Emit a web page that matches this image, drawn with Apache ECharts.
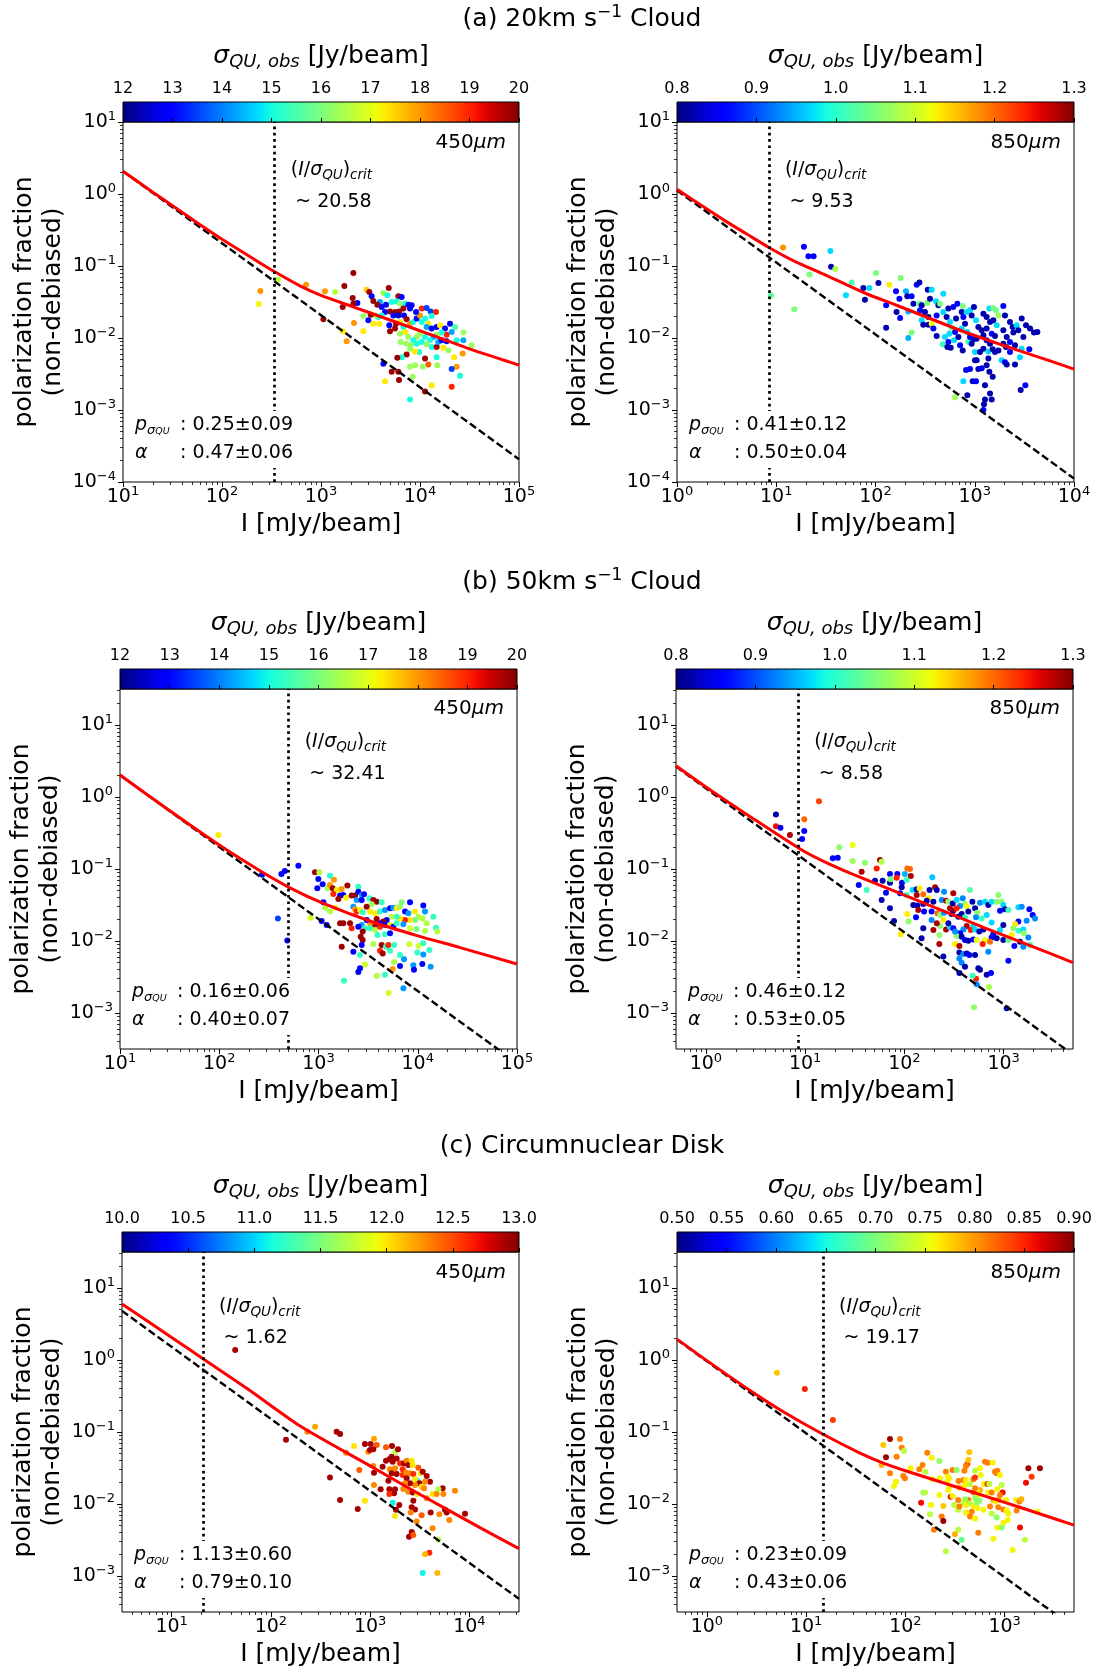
<!DOCTYPE html>
<html><head><meta charset="utf-8">
<script src="https://cdn.jsdelivr.net/npm/echarts@6.0.0/dist/echarts.min.js"></script>
<style>html,body{margin:0;padding:0;background:#fff}#c{width:1096px;height:1674px}</style>
</head><body><div id="c"></div>
<script>
// ================= DATA =================
// points: [I (mJy/beam), polarization fraction, sigma_QU,obs]
const pts20_450 = [[244,0.045,18],[235,0.0296,17.2],[367,0.0647,16.6],
[2123,0.080,19.8],[706,0.0551,18],[1096,0.0445,18],[1386,0.0435,16.6],[1722,0.0527,19.8],[2891,0.0469,17.5],[3076,0.0435,19.8],[3250,0.0379,13],[3378,0.0327,19.8],[4831,0.0494,19.8],[2089,0.036,19.8],[2329,0.0306,13],[2123,0.030,19.8],[1656,0.027,19.8],[4266,0.0422,16.3],[4677,0.0392,15],[6043,0.0379,19.8],[6531,0.0371,13],[3945,0.0316,14.3],[3707,0.029,19.8],[4101,0.027,13],[4536,0.029,13],[5177,0.0316,15],[5808,0.0323,15],[6281,0.030,16.2],[7063,0.030,15],[7621,0.029,13],[8240,0.0284,13],[7925,0.0256,13],[6792,0.0256,19.8],[6182,0.0234,19.8],[5594,0.023,19.8],[4977,0.0234,19.8],[4432,0.023,13],[4101,0.0206,15],[3793,0.0196,15],[3514,0.0206,16.3],[3176,0.0211,19.8],[3006,0.0176,13],[2679,0.0202,16.3],[3378,0.0158,17.3],[3882,0.0158,17.3],[4898,0.015,13],[5383,0.0206,13],[6043,0.0206,12.5],[6900,0.0206,13],[7331,0.0182,19.8],[6281,0.0167,17.3],[5724,0.0158,19.8],[6792,0.0142,15],[7925,0.0158,18],[8570,0.0167,15],[9252,0.0186,13],[10000,0.0206,18],[9120,0.023,13],[10400,0.0256,19],[11670,0.0261,13.5],[12820,0.0234,13.5],[14510,0.023,19],[13120,0.0202,15],[11240,0.0186,15],[10400,0.0167,15],[12130,0.0158,17.3],[11670,0.0142,14.3],[13120,0.0135,13],[14730,0.0142,13],[15920,0.015,17.3],[17900,0.0135,13],[20100,0.0158,13],[22590,0.0142,15.5],[20890,0.0121,14.3],[18580,0.0111,19],[16550,0.0119,15],[14730,0.0111,16.3],[13640,0.0103,14.3],[12620,0.0093,15],[11240,0.0103,15],[10000,0.0115,16.3],[9252,0.0103,16.3],[8570,0.0093,15],[7621,0.0103,16.3],[7063,0.0121,17.3],[6281,0.0115,16.3],[5594,0.0135,19.8],[4977,0.0124,19.8],[6383,0.0088,16.3],[7228,0.0083,16.3],[8054,0.0079,16.3],[9252,0.0083,15],[10400,0.0088,15],[11670,0.0081,16.3],[13120,0.0075,15],[14730,0.0075,19.8],[17200,0.0073,17.3],[19320,0.0067,16.3],[23450,0.0093,15],[27400,0.0093,14.3],[27400,0.0119,16.3],[33270,0.0079,16.3],[26980,0.0061,18],[22070,0.0054,17.3],[23450,0.0040,18],[20890,0.0037,13.5],[25360,0.0030,15],[20890,0.0021,19],[14730,0.0054,15],[14960,0.0042,16.3],[12130,0.0043,18.5],[11240,0.0052,19.8],[9840,0.0064,15],[8910,0.0065,17.3],[7925,0.0071,16.3],[7331,0.0059,19.8],[6531,0.0054,15],[5902,0.0053,19.8],[7925,0.0040,16.3],[8910,0.0042,16.3],[10640,0.0040,16.3],[5177,0.0034,19.8],[4266,0.0044,13],[6043,0.0034,19.8],[6138,0.0026,19.8],[8430,0.0029,16.3],[4432,0.0025,17.3],[7925,0.0014,15],[13120,0.0022,17.3],[11240,0.0018,19.8],[2679,0.0124,17.3],[2153,0.0161,18],[1656,0.0124,17.3],[1816,0.009,18],[1057,0.0182,19.8],[15300,0.0088,14.3],[16550,0.0093,13],[18580,0.009,13]];

const pts20_850 = [[11.7,0.181,1.18],[19.0,0.185,0.86],[21.1,0.137,0.86],[23.8,0.137,0.86],[35.1,0.162,0.97],[35.7,0.0977,0.82],[39.4,0.0906,1.08],[21.6,0.0764,1.05],[8.85,0.039,1.03],[15.2,0.025,1.05],
[57.5,0.0588,1.02],[50.4,0.0392,0.97],[75.4,0.0494,0.82],[86.6,0.0494,0.97],[78.3,0.034,0.82],[101,0.080,1.05],[107,0.058,0.82],[138,0.055,1.13],[179,0.068,1.05],[161,0.0445,0.86],[128,0.0284,0.86],[174,0.0352,0.86],[203,0.0445,0.95],[209,0.0379,0.82],[231,0.0379,0.86],[260,0.055,0.86],[277,0.0588,0.82],[163,0.023,0.82],[177,0.019,0.86],[214,0.0234,0.95],[241,0.030,0.82],[277,0.030,1.04],[292,0.0284,0.82],[333,0.0306,1.05],[336,0.0469,0.82],[368,0.0469,0.97],[354,0.0352,0.82],[407,0.0323,0.97],[430,0.0284,0.82],[482,0.0413,0.97],[447,0.030,1.05],[281,0.0242,0.86],[315,0.023,0.82],[341,0.0196,0.82],[292,0.0176,0.97],[303,0.0153,0.82],[341,0.0153,0.82],[368,0.0158,1.12],[383,0.0135,0.86],[413,0.0206,0.86],[413,0.0107,0.82],[128,0.0139,0.82],[214,0.010,0.95],[231,0.0119,1.05],[482,0.023,0.97],[542,0.0256,0.82],[521,0.0196,0.82],[563,0.0167,0.97],[586,0.0138,1.05],[555,0.0115,0.97],[501,0.0103,0.97],[475,0.0082,1.01],[542,0.0088,0.86],[572,0.0073,0.82],[618,0.0093,0.97],[633,0.0121,0.86],[684,0.0103,0.82],[711,0.0079,0.86],[756,0.0067,0.82],[648,0.0186,0.82],[608,0.027,0.86],[668,0.030,0.86],[756,0.0279,1.05],[739,0.023,0.82],[768,0.0196,0.86],[829,0.023,0.97],[798,0.0158,0.82],[739,0.0135,0.97],[842,0.0121,0.97],[862,0.0088,1.01],[931,0.0083,0.82],[968,0.0096,0.82],[896,0.0103,0.86],[1045,0.0098,0.82],[1006,0.0064,0.97],[896,0.0242,0.97],[982,0.027,0.82],[931,0.0206,0.82],[1030,0.0176,0.97],[1087,0.0142,0.82],[1175,0.0128,0.82],[1222,0.0109,0.82],[1222,0.0218,0.82],[1318,0.0196,0.82],[1403,0.0256,0.97],[1539,0.0261,1.05],[1637,0.0242,1.04],[1730,0.0206,1.07],[1425,0.0167,0.82],[1539,0.0176,0.82],[1663,0.015,0.97],[1318,0.0135,0.82],[1482,0.0115,0.86],[1600,0.0107,0.82],[1318,0.0093,0.86],[1425,0.0083,0.82],[1222,0.0071,0.82],[1130,0.0064,0.82],[1371,0.0065,0.97],[1517,0.007,0.82],[1600,0.0064,0.82],[1730,0.0067,0.82],[1941,0.0279,0.86],[2018,0.0206,0.82],[2265,0.0167,0.82],[2410,0.0142,0.82],[2644,0.015,0.97],[2748,0.0128,0.82],[2449,0.0119,0.82],[1941,0.0128,0.82],[2099,0.0103,0.82],[1941,0.0083,0.82],[2064,0.0075,0.82],[2265,0.0088,0.86],[2545,0.0079,0.82],[2265,0.0064,0.86],[1866,0.0049,0.97],[2018,0.0046,0.86],[2099,0.0043,0.82],[2545,0.0043,0.82],[2858,0.0054,0.97],[2972,0.0186,0.82],[3283,0.015,0.82],[3606,0.0135,0.82],[3954,0.0119,0.82],[4275,0.0121,0.82],[3090,0.0103,0.82],[2972,0.0071,0.97],[3548,0.007,0.86],[1045,0.0049,0.82],[1087,0.0037,0.82],[1175,0.0038,0.86],[1318,0.0042,0.82],[1403,0.0034,0.82],[1517,0.0029,0.82],[1371,0.0052,0.82],[817,0.0036,0.86],[896,0.0037,0.86],[1006,0.0049,0.82],[953,0.0025,0.82],[1030,0.0025,0.86],[768,0.0025,0.97],[1268,0.0022,0.82],[842,0.0016,0.82],[633,0.0015,1.07],[1425,0.0017,0.82],[1482,0.0014,0.82],[1268,0.0014,0.82],[1239,0.0012,0.82],[1222,0.001,0.86],[2904,0.0019,0.82],[3236,0.0022,0.86],[530,0.0075,0.82]];

const pts50_450 = [[98,0.296,17.3],[270,0.0835,13],[423,0.0855,13],[458,0.0935,13],[390,0.0206,13.5],[485,0.0102,13],
[627,0.111,13],[922,0.090,19.8],[1021,0.090,16.5],[1306,0.0808,15.2],[1432,0.0711,18],[996,0.0727,13],[1101,0.0613,13],[973,0.054,13],[1228,0.054,16.5],[1306,0.060,18],[1390,0.054,19.8],[1525,0.051,17.3],[1713,0.0527,18],[1954,0.0588,19.8],[2519,0.0569,15.3],[1412,0.045,19],[1648,0.0427,13],[1778,0.0435,13],[1892,0.040,17.3],[1585,0.0383,19.8],[2158,0.0427,19.8],[2333,0.0427,19.8],[2519,0.0484,13],[2723,0.0435,14.2],[2875,0.0445,13],[2425,0.0371,14.2],[2723,0.0371,13],[3253,0.0392,15.3],[3570,0.0371,19.8],[3855,0.0352,19.8],[4333,0.0344,15.3],[3434,0.0323,16.3],[2244,0.030,14.2],[2333,0.0275,18],[3057,0.030,19.8],[2425,0.0256,19],[2620,0.027,17.3],[2786,0.025,15.3],[3304,0.0256,17.3],[3707,0.0242,17.3],[4168,0.0256,15.3],[4677,0.027,14.2],[5260,0.0284,13],[5680,0.029,14.2],[6138,0.0284,17.3],[6625,0.030,16.3],[6890,0.0344,16],[8356,0.0344,13],[7447,0.0256,13],[8040,0.0242,14.2],[9380,0.0256,17.3],[11380,0.031,13],[11830,0.0256,14.2],[10140,0.0218,16.5],[11220,0.0206,16.5],[9380,0.0196,16],[8356,0.0196,17.3],[7447,0.0196,19],[6625,0.0206,17.3],[6138,0.0218,15.3],[5460,0.0218,16.5],[4864,0.0196,13],[4500,0.0186,19.8],[4168,0.0176,13],[3855,0.0202,19.8],[3707,0.0167,19.8],[3304,0.0176,18],[3057,0.0196,13],[2723,0.0167,14.2],[2519,0.0158,13],[2942,0.015,15.3],[3304,0.015,15.3],[3707,0.0142,16.5],[4168,0.0158,19],[4677,0.0167,13],[5260,0.0167,17.3],[5680,0.0158,13],[6138,0.0176,15.3],[7161,0.0171,14.2],[8356,0.015,16.8],[9750,0.0147,16],[11830,0.0138,16.5],[12300,0.0176,16.5],[14360,0.0218,15.3],[15280,0.0153,15.3],[15740,0.0135,16.5],[3917,0.0121,15.3],[4677,0.0124,15.3],[5260,0.0128,13],[2786,0.0135,19.8],[2661,0.0115,19.8],[2786,0.0103,19.8],[2723,0.0088,13],[2244,0.0071,13],[2620,0.0064,15.3],[3570,0.0091,16.5],[4333,0.0088,19.8],[4786,0.0083,15.3],[5058,0.0088,19],[5768,0.0088,15.3],[4168,0.0073,19],[4436,0.0067,19.8],[5260,0.0073,15.3],[8225,0.009,16.8],[10140,0.0085,16.8],[11380,0.0093,15.3],[9900,0.0069,15.3],[11380,0.0065,14.2],[13090,0.0075,15.3],[6625,0.0064,15.3],[7277,0.0056,14.2],[5768,0.0051,16.5],[6625,0.0045,13],[2942,0.0047,16.8],[2620,0.0042,13],[2519,0.0037,13],[3855,0.0033,16.5],[4677,0.0034,15.3],[5590,0.0041,18],[9033,0.0046,14.2],[9162,0.004,13],[11120,0.0048,13],[13490,0.0044,14.2],[7161,0.0022,14.2],[5094,0.0019,16.8],[1807,0.0028,15.3],[1713,0.0083,19.8],[1076,0.019,13],[834,0.0211,16.8],[1208,0.0167,13],[1648,0.0176,19.8],[1778,0.0176,19.8],[2078,0.0176,19.8],[2158,0.015,19],[1306,0.0256,16.5],[1164,0.029,16.5],[1466,0.029,17.3],[1119,0.0344,13]];

const pts50_850 = [[5.08,0.571,0.82],[5.08,0.392,1.25],[5.64,0.375,0.86],[7.03,0.296,1.28],[9.33,0.261,0.86],[9.8,0.338,0.86],[9.8,0.49,1.2],[13.8,0.875,1.22],
[22.1,0.200,1.06],[30.1,0.215,1.12],[19.0,0.141,0.86],[21.3,0.1436,0.86],[30.1,0.129,1.07],[40.1,0.1225,1.06],[56.8,0.133,1.28],[59.0,0.1265,1.08],[52.6,0.102,1.24],[37.1,0.0918,1.28],[34.7,0.060,0.86],[41.7,0.051,1.01],[50.6,0.0688,0.82],[60.4,0.0688,0.82],[71.6,0.0853,0.86],[84.9,0.0853,0.86],[71.6,0.0646,0.82],[72.7,0.0718,1.05],[83.6,0.0758,1.24],[94.6,0.0646,0.86],[101,0.0853,0.95],[107,0.102,1.2],[114,0.100,1.2],[116,0.080,1.28],[105,0.0703,1.01],[94,0.0556,0.82],[65.3,0.0469,0.86],[59,0.0371,0.82],[90.4,0.0459,0.86],[105,0.0435,1.01],[121,0.051,0.97],[133,0.0522,0.82],[142,0.0538,1.13],[133,0.0435,1.28],[155,0.0445,1.2],[175,0.0392,1.13],[179,0.051,0.82],[191,0.0766,0.96],[204,0.0556,1.28],[212,0.051,0.82],[168,0.0363,0.82],[196,0.0352,0.82],[251,0.0484,0.93],[311,0.0459,1.28],[238,0.0371,0.93],[263,0.0363,1.28],[277,0.0352,1.06],[307,0.0333,0.82],[336,0.0371,0.97],[387,0.0392,0.93],[458,0.051,1.03],[484,0.0352,0.82],[408,0.0327,1.06],[425,0.0306,1.12],[364,0.0306,0.93],[123,0.0316,0.82],[135,0.031,0.82],[138,0.027,1.28],[155,0.0327,0.82],[158,0.0256,0.86],[188,0.0256,0.86],[215,0.0242,1.2],[229,0.023,1.06],[251,0.0247,0.93],[288,0.0284,1.28],[311,0.0264,1.28],[336,0.0284,1.24],[299,0.0237,0.82],[350,0.0218,0.82],[378,0.0237,0.82],[408,0.0213,1.01],[441,0.0256,0.82],[515,0.0284,0.82],[578,0.034,0.93],[649,0.0352,0.97],[701,0.0316,0.82],[757,0.0352,0.97],[851,0.0352,1.06],[955,0.0352,1.06],[885,0.0435,1.06],[993,0.0316,0.97],[1032,0.0275,0.82],[920,0.0264,0.86],[1116,0.027,1.01],[1407,0.0294,0.97],[1521,0.030,0.93],[1816,0.0275,0.86],[1963,0.023,0.86],[2070,0.0206,0.93],[1706,0.0191,0.93],[1407,0.0186,0.86],[1303,0.0172,1.13],[1253,0.015,1.06],[1407,0.0139,1.01],[1579,0.0145,0.97],[1604,0.0128,1.06],[1774,0.0112,0.93],[1462,0.0098,0.82],[1283,0.0085,0.86],[1579,0.0083,0.93],[1844,0.0088,1.01],[1116,0.0053,0.86],[993,0.0103,0.82],[1116,0.0103,1.04],[1205,0.0121,1.13],[920,0.0142,0.97],[787,0.0125,0.86],[757,0.0112,0.86],[851,0.0109,0.82],[993,0.0167,0.82],[757,0.018,0.97],[675,0.023,0.97],[601,0.0206,1.01],[543,0.0247,1.06],[527,0.0213,0.93],[495,0.0161,0.97],[466,0.0142,1.24],[515,0.0145,0.97],[569,0.0135,0.82],[625,0.0145,0.82],[649,0.0103,1.12],[729,0.0098,1.2],[615,0.0091,1.24],[701,0.0071,0.93],[425,0.0161,1.28],[393,0.0145,0.93],[364,0.0128,0.86],[336,0.0117,1.06],[378,0.0115,0.82],[408,0.0103,0.86],[441,0.0101,0.82],[495,0.0105,0.86],[535,0.0103,1.12],[324,0.0091,1.13],[358,0.0085,1.28],[358,0.0069,0.82],[393,0.0066,0.93],[425,0.0067,0.82],[358,0.0057,0.93],[451,0.0064,0.86],[515,0.0064,0.82],[378,0.005,0.93],[408,0.0044,0.82],[556,0.0042,0.82],[578,0.004,0.82],[675,0.0034,0.82],[746,0.0036,0.86],[527,0.003,1.24],[488,0.0033,1.01],[535,0.0025,0.93],[713,0.0023,1.08],[358,0.0036,0.82],[247,0.0061,0.82],[225,0.0091,1.28],[225,0.0121,1.06],[196,0.0142,1.28],[229,0.0161,1.06],[263,0.0145,1.28],[288,0.0155,0.97],[311,0.015,0.86],[324,0.0135,0.93],[277,0.0176,0.82],[247,0.0196,1.13],[212,0.0176,1.28],[188,0.0196,0.93],[155,0.015,0.82],[149,0.0109,0.82],[110,0.0186,1.06],[107,0.0237,1.13],[131,0.0213,0.86],[78.6,0.019,0.82],[71.6,0.0284,0.82],[91.8,0.0124,1.13],[503,0.0012,1.06],[1074,0.00116,0.82]];

const ptsCnd_450 = [[43.7,1.38,12.9],[142,0.078,12.9],
[233,0.101,12.3],[279,0.1186,12.2],[460,0.101,12.9],[498,0.0937,12.9],[571,0.0516,12.3],[689,0.064,12.0],[394,0.0234,12.9],[778,0.0296,12.45],[498,0.0114,12.9],[887,0.0111,12.0],[750,0.0085,12.9],[887,0.068,12.9],[1013,0.068,12.9],[1094,0.0808,12.2],[1164,0.066,12.45],[959,0.0533,12.3],[997,0.0562,12.9],[1077,0.0574,12.9],[1445,0.0613,12.45],[1661,0.064,12.9],[1795,0.0533,11.7],[1909,0.0574,12.9],[1077,0.0337,12.3],[1094,0.0272,12.9],[1337,0.033,12.9],[1445,0.040,12.9],[1563,0.0417,12.9],[1648,0.0454,12.9],[1687,0.0387,12.9],[1850,0.043,12.9],[2000,0.0367,12.6],[2193,0.0367,12.9],[2333,0.040,12.3],[2425,0.0348,12.9],[2624,0.040,12.0],[2685,0.0348,12.0],[2128,0.0303,12.6],[1782,0.0313,12.3],[1585,0.0303,12.3],[1648,0.0267,12.9],[1850,0.0261,12.9],[2128,0.0253,12.6],[2301,0.0272,12.3],[2523,0.0267,12.3],[2333,0.0227,12.9],[2723,0.0261,12.6],[3062,0.032,12.45],[3228,0.0267,12.0],[3388,0.0281,12.9],[2992,0.0211,11.1],[2834,0.022,12.0],[3133,0.0194,12.9],[3715,0.0245,12.9],[4009,0.0204,12.9],[3573,0.0204,12.3],[3304,0.0174,12.0],[3491,0.0165,12.3],[2834,0.0184,12.3],[2523,0.0194,12.9],[2244,0.0194,12.3],[2161,0.0161,12.3],[2425,0.0148,12.3],[2685,0.0144,12.9],[2992,0.0138,12.0],[1528,0.0211,12.9],[1276,0.016,12.9],[1094,0.0184,12.3],[1563,0.016,12.9],[1782,0.016,12.9],[1742,0.0141,12.9],[1563,0.0138,12.6],[1687,0.0104,11.1],[1968,0.0097,12.9],[1822,0.0083,12.9],[2723,0.0111,12.9],[2624,0.009,12.9],[2834,0.0084,12.9],[2564,0.0076,12.3],[1782,0.0068,12.0],[2944,0.0057,12.3],[3304,0.007,12.45],[4074,0.0076,12.9],[4977,0.0072,12.3],[5680,0.0083,12.9],[5902,0.0076,12.9],[6281,0.006,12.3],[9033,0.0073,12.9],[7161,0.0153,12.3],[5383,0.0165,12.9],[4864,0.016,11.7],[4266,0.0138,12.0],[4677,0.0138,12.3],[5470,0.0138,12.3],[3715,0.012,12.3],[4266,0.0046,12.3],[2624,0.0041,12.9],[2466,0.0035,12.9],[2723,0.0037,12.45],[4864,0.0032,11.7],[3954,0.0021,12.6],[3573,0.002,12.15],[3388,0.0011,11.1],[4753,0.0011,12.15]];

const ptsCnd_850 = [[5.08,0.667,0.78],[9.7,0.394,0.85],[18.6,0.147,0.84],
[60,0.066,0.78],[70,0.080,0.89],[88.3,0.080,0.81],[91.8,0.0605,0.81],[96.8,0.0545,0.73],[81.7,0.0454,0.81],[63.8,0.0445,0.89],[57.7,0.0348,0.79],[70,0.0267,0.81],[80.5,0.0204,0.76],[76.8,0.0178,0.76],[95.3,0.0245,0.81],[99.1,0.0227,0.81],[113,0.0313,0.76],[138,0.0303,0.81],[149,0.0348,0.81],[166,0.0516,0.81],[184,0.044,0.76],[159,0.0281,0.73],[220,0.0396,0.71],[188,0.022,0.76],[223,0.0227,0.76],[152,0.0144,0.71],[158,0.0144,0.73],[144,0.0104,0.86],[181,0.0097,0.76],[220,0.0133,0.76],[241,0.0094,0.78],[177,0.0072,0.73],[232,0.0067,0.81],[241,0.0058,0.89],[194,0.0044,0.81],[256,0.0281,0.81],[267,0.024,0.76],[277,0.0227,0.76],[265,0.0204,0.76],[299,0.0296,0.81],[329,0.0296,0.71],[277,0.0174,0.76],[271,0.0156,0.76],[286,0.0126,0.86],[299,0.0129,0.76],[311,0.0097,0.73],[341,0.0114,0.81],[341,0.0083,0.73],[344,0.0208,0.81],[384,0.0215,0.81],[350,0.0169,0.79],[399,0.0184,0.76],[408,0.0215,0.76],[421,0.036,0.84],[408,0.0337,0.81],[431,0.0408,0.78],[441,0.0522,0.78],[393,0.029,0.81],[448,0.0188,0.73],[484,0.022,0.81],[503,0.0234,0.84],[503,0.029,0.73],[565,0.0313,0.76],[574,0.0253,0.76],[620,0.019,0.76],[670,0.019,0.84],[701,0.019,0.73],[685,0.0144,0.76],[740,0.0144,0.81],[634,0.0387,0.81],[675,0.0375,0.81],[757,0.0375,0.76],[800,0.0281,0.81],[844,0.029,0.81],[831,0.0267,0.81],[898,0.0253,0.76],[844,0.016,0.76],[933,0.0184,0.73],[955,0.0144,0.86],[898,0.0133,0.81],[1032,0.0114,0.76],[865,0.0114,0.81],[769,0.0114,0.79],[818,0.0108,0.76],[565,0.0156,0.79],[523,0.0153,0.76],[503,0.0165,0.81],[484,0.0144,0.81],[543,0.0133,0.76],[503,0.012,0.71],[431,0.0114,0.81],[399,0.0116,0.71],[384,0.0104,0.73],[350,0.0092,0.81],[408,0.0097,0.76],[448,0.0102,0.73],[484,0.0094,0.76],[523,0.0104,0.71],[556,0.0111,0.71],[611,0.0083,0.76],[531,0.0087,0.76],[713,0.0092,0.81],[740,0.0074,0.73],[831,0.0065,0.71],[865,0.009,0.81],[971,0.0084,0.81],[1049,0.0081,0.76],[1089,0.0073,0.76],[1074,0.006,0.76],[971,0.0055,0.76],[844,0.0047,0.76],[933,0.0047,0.71],[1303,0.0114,0.76],[1407,0.0108,0.81],[1473,0.0116,0.79],[1322,0.0081,0.81],[1429,0.0047,0.86],[2153,0.0078,0.76],[1603,0.0032,0.73],[1206,0.0023,0.76],[769,0.0033,0.76],[543,0.004,0.81],[369,0.0032,0.69],[341,0.0044,0.73],[316,0.0038,0.79],[256,0.0022,0.73],[466,0.0078,0.81],[408,0.0076,0.76],[448,0.0067,0.81],[503,0.0063,0.76],[1641,0.0198,0.86],[1871,0.024,0.84],[1734,0.0313,0.89],[2270,0.0313,0.89]];

// fitted model curves: [I, p]
const fit20_450 = [[10,2.07],[20,1.06],[33,0.66],[60,0.375],[100,0.236],[200,0.13],[341,0.083],[614,0.053],[1000,0.039],[1941,0.0282],[4977,0.0178],[15000,0.0103],[40360,0.0063],[100000,0.0042]];
const fit20_850 = [[1,1.16],[2,0.62],[3,0.43],[5,0.28],[8.43,0.181],[15,0.118],[34.8,0.0703],[80,0.0415],[163,0.0285],[767,0.0123],[2000,0.0078],[5730,0.0048],[10000,0.0037]];
const fit50_450 = [[10,2.02],[30,0.68],[100,0.215],[250,0.097],[516,0.0548],[1119,0.0333],[3570,0.0182],[10000,0.0118],[26700,0.0081],[100000,0.0048]];
const fit50_850 = [[0.5,2.72],[1,1.38],[3,0.50],[8.9,0.19],[15,0.13],[30,0.085],[133,0.037],[625,0.0155],[2930,0.00675],[5000,0.005]];
const fitCnd_450 = [[3.1623,6.0],[10,2.06],[20.7,1.04],[60,0.385],[197,0.121],[1000,0.0338],[3000,0.0142],[12790,0.0047],[31623,0.0024]];
const fitCnd_850 = [[0.5,1.95],[1,0.98],[3,0.345],[6,0.188],[14.8,0.093],[34.9,0.051],[60,0.037],[100,0.029],[400,0.0158],[1500,0.0088],[3612,0.0059],[5000,0.0051]];
// noise-only relation (dashed)
const noise20_450 = [[10,2.07],[100000,0.000207]];
const noise20_850 = [[1,1.12],[10000,0.000112]];
const noise50_450 = [[10,2.02],[100000,0.000202]];
const noise50_850 = [[0.5,2.64],[5000,0.000264]];
const noiseCnd_450 = [[3.1623,4.81],[31623,0.000481]];
const noiseCnd_850 = [[0.5,1.92],[5000,0.000192]];

const critI = [341, 8.43, 501, 8.53, 20.7, 14.8];
const critRatio = ['20.58','9.53','32.41','8.58','1.62','19.17'];
const pSigma = ['0.25±0.09','0.41±0.12','0.16±0.06','0.46±0.12','1.13±0.60','0.23±0.09'];
const alphaFit = ['0.47±0.06','0.50±0.04','0.40±0.07','0.53±0.05','0.79±0.10','0.43±0.06'];
const bands = ['450','850','450','850','450','850'];
const rowTitles = [['(a) 20km s','−1',' Cloud'],['(b) 50km s','−1',' Cloud'],['(c) Circumnuclear Disk','','']];

const cbRange = [[12,20],[0.8,1.3],[12,20],[0.8,1.3],[10,13],[0.5,0.9]];
const cbTicks = [[12,13,14,15,16,17,18,19,20],[0.8,0.9,1.0,1.1,1.2,1.3],[12,13,14,15,16,17,18,19,20],[0.8,0.9,1.0,1.1,1.2,1.3],[10,10.5,11,11.5,12,12.5,13],[0.5,0.55,0.6,0.65,0.7,0.75,0.8,0.85,0.9]];
const cbDecimals = [0,1,0,1,1,2];
const xRange = [[10,1e5],[1,1e4],[10,1e5],[0.5,5000],[3.1623,31623],[0.5,5000]];
const yRange = [[1e-4,10],[1e-4,10],[3.1623e-4,31.623],[3.1623e-4,31.623],[3.1623e-4,31.623],[3.1623e-4,31.623]];
const xTicks = [[10,100,1000,1e4,1e5],[1,10,100,1000,1e4],[10,100,1000,1e4,1e5],[1,10,100,1000],[10,100,1000,1e4],[1,10,100,1000]];
const yTicks = [[1e-4,1e-3,1e-2,1e-1,1,10],[1e-4,1e-3,1e-2,1e-1,1,10],[1e-3,1e-2,1e-1,1,10],[1e-3,1e-2,1e-1,1,10],[1e-3,1e-2,1e-1,1,10],[1e-3,1e-2,1e-1,1,10]];

const panels = [
  {pts:pts20_450, fit:fit20_450, noise:noise20_450},
  {pts:pts20_850, fit:fit20_850, noise:noise20_850},
  {pts:pts50_450, fit:fit50_450, noise:noise50_450},
  {pts:pts50_850, fit:fit50_850, noise:noise50_850},
  {pts:ptsCnd_450, fit:fitCnd_450, noise:noiseCnd_450},
  {pts:ptsCnd_850, fit:fitCnd_850, noise:noiseCnd_850}
];

// ================= LAYOUT / STYLE =================
const FONT = 'DejaVu Sans';
const GEO = [[123,122,396,360],[677,122,397,360],[120,689,397,360],[676,689,397,360],[122,1252,397,360],[677,1252,397,360]];
const ROW_TITLE_Y = [19, 582, 1146];
const CRIT_DY = [[48,80],[53,85],[55,86]];
const BAND_DY = [21,20,21];

function interp(t, a){ for(let k=1;k<a.length;k++){ if(t<=a[k][0]){ const x0=a[k-1][0],y0=a[k-1][1],x1=a[k][0],y1=a[k][1]; return y0+(y1-y0)*(t-x0)/(x1-x0);} } return a[a.length-1][1]; }
const JR=[[0,0],[0.35,0],[0.66,1],[0.89,1],[1,0.5]];
const JG=[[0,0],[0.125,0],[0.375,1],[0.64,1],[0.91,0],[1,0]];
const JB=[[0,0.5],[0.11,1],[0.34,1],[0.65,0],[1,0]];
function jet(t){ t=Math.min(1,Math.max(0,t)); const c=[JR,JG,JB].map(a=>Math.round(255*interp(t,a))); return 'rgb('+c.join(',')+')'; }
const jetStops=[]; for(let k=0;k<=50;k++){ jetStops.push({offset:k/50, color:jet(k/50)}); }

function minorTicks(r){ const out=[]; const a=Math.floor(Math.log10(r[0])), b=Math.ceil(Math.log10(r[1]));
  for(let e=a;e<=b;e++){ for(let k=2;k<=9;k++){ const v=k*Math.pow(10,e); if(v>=r[0]*1.0001 && v<=r[1]*0.9999) out.push(v);} } return out; }
function powLabel(v){ const e=Math.round(Math.log10(v)); return '{b|10}{s|'+(e<0?'\u2212'+(-e):e)+'}'; }
const tickRich = {
  b:{fontSize:19, fontFamily:FONT, color:'#000', lineHeight:24},
  s:{fontSize:13, fontFamily:FONT, color:'#000', lineHeight:14, verticalAlign:'top'}
};

const grid=[], xAxis=[], yAxis=[], series=[];
panels.forEach((pn,i)=>{
  const [L,T,W,H]=GEO[i];
  grid.push({left:L, top:T, width:W, height:H, show:true, borderColor:'#000', borderWidth:1, backgroundColor:'rgba(0,0,0,0)', containLabel:false, outerBoundsMode:'none'});
  grid.push({left:L, top:T-20, width:W, height:20, show:true, borderColor:'#000', borderWidth:1, containLabel:false, outerBoundsMode:'none',
    backgroundColor:{type:'linear', x:0, y:0, x2:1, y2:0, colorStops:jetStops}});
  const gi=2*i;
  const tickLine={color:'#000', width:1};
  xAxis.push({type:'log', logBase:10, gridIndex:gi, min:xRange[i][0], max:xRange[i][1], position:'bottom',
    axisLine:{show:false}, splitLine:{show:false},
    axisTick:{show:true, inside:false, length:5, customValues:xTicks[i], lineStyle:tickLine},
    axisLabel:{show:true, customValues:xTicks[i], formatter:powLabel, rich:tickRich, margin:3, hideOverlap:false}});
  xAxis.push({type:'log', logBase:10, gridIndex:gi, min:xRange[i][0], max:xRange[i][1], position:'bottom',
    axisLine:{show:false}, splitLine:{show:false},
    axisTick:{show:true, inside:false, length:3, customValues:minorTicks(xRange[i]), lineStyle:{color:'#000', width:0.8}},
    axisLabel:{show:false}});
  xAxis.push({type:'value', gridIndex:gi+1, min:cbRange[i][0], max:cbRange[i][1], position:'top',
    axisLine:{show:false}, splitLine:{show:false},
    axisTick:{show:true, inside:false, length:4, customValues:cbTicks[i], lineStyle:tickLine},
    axisLabel:{show:true, customValues:cbTicks[i], formatter:(v)=>Number(v).toFixed(cbDecimals[i]), fontSize:16, fontFamily:FONT, color:'#000', margin:5, hideOverlap:false}});
  yAxis.push({type:'log', logBase:10, gridIndex:gi, min:yRange[i][0], max:yRange[i][1], position:'left',
    axisLine:{show:false}, splitLine:{show:false},
    axisTick:{show:true, inside:false, length:5, customValues:yTicks[i], lineStyle:tickLine},
    axisLabel:{show:true, customValues:yTicks[i], formatter:powLabel, rich:tickRich, margin:7, hideOverlap:false}});
  yAxis.push({type:'log', logBase:10, gridIndex:gi, min:yRange[i][0], max:yRange[i][1], position:'left',
    axisLine:{show:false}, splitLine:{show:false},
    axisTick:{show:true, inside:false, length:3, customValues:minorTicks(yRange[i]), lineStyle:{color:'#000', width:0.8}},
    axisLabel:{show:false}});
  yAxis.push({type:'value', gridIndex:gi+1, min:0, max:1, show:false});

  const lo=cbRange[i][0], hi=cbRange[i][1];
  series.push({type:'scatter', xAxisIndex:3*i, yAxisIndex:3*i, data:pn.pts, symbolSize:6, z:2, silent:true,
    itemStyle:{opacity:1, color:(p)=>jet((p.value[2]-lo)/(hi-lo))}});
  series.push({type:'line', xAxisIndex:3*i, yAxisIndex:3*i, data:pn.noise, symbol:'none', z:3, silent:true,
    lineStyle:{color:'#000', width:2.4, type:[7.5,3.5]},
    markLine:{symbol:['none','none'], silent:true, label:{show:false}, animation:false,
      lineStyle:{color:'#000', width:2.7, type:[2.7,3.6]}, data:[{xAxis:critI[i]}]}});
  series.push({type:'line', xAxisIndex:3*i, yAxisIndex:3*i, data:pn.fit, symbol:'none', smooth:0.25, z:4, silent:true,
    lineStyle:{color:'#ff0000', width:3}});
});

const chart = echarts.init(document.getElementById('c'), null, {renderer:'canvas'});
chart.setOption({animation:false, backgroundColor:'#fff', textStyle:{fontFamily:FONT}, grid, xAxis, yAxis, series});

// ================= TEXT ANNOTATIONS =================
function T(x,y,text,rich,align,extra){
  return Object.assign({type:'text', x:x, y:y, z:100, silent:true,
    style:{text:text, rich:rich||{}, align:align||'left', verticalAlign:'middle', fill:'#000', fontFamily:FONT, fontSize:19}}, extra||{});
}
const graphic=[];
rowTitles.forEach((t,r)=>{
  graphic.push(T(582, ROW_TITLE_Y[r], '{t|'+t[0]+'}'+(t[1]?'{s|'+t[1]+'}':'')+(t[2]?'{t|'+t[2]+'}':''),
    {t:{fontSize:25, fontFamily:FONT, lineHeight:30, color:'#000'}, s:{fontSize:17, fontFamily:FONT, lineHeight:18, verticalAlign:'top', color:'#000'}}, 'center'));
});
panels.forEach((pn,i)=>{
  const [L,T0,W,H]=GEO[i]; const B=T0+H, R=L+W; const row=Math.floor(i/2);
  let cx = chart.convertToPixel({xAxisIndex:3*i}, critI[i]);
  if(!isFinite(cx)){ cx = L + W*(Math.log10(critI[i])-Math.log10(xRange[i][0]))/(Math.log10(xRange[i][1])-Math.log10(xRange[i][0])); }
  graphic.push(T(L+W/2, T0-66, '{i|σ}{s|QU, obs}{t| [Jy/beam]}',
    {i:{fontSize:25, fontStyle:'italic', fontFamily:FONT, lineHeight:30, color:'#000'},
     s:{fontSize:18, fontStyle:'italic', fontFamily:FONT, lineHeight:20, verticalAlign:'bottom', color:'#000'},
     t:{fontSize:25, fontFamily:FONT, lineHeight:30, color:'#000'}}, 'center'));
  graphic.push({type:'text', x:L+W/2, y:B+42.5, z:100, silent:true,
    style:{text:'I [mJy/beam]', align:'center', verticalAlign:'middle', fill:'#000', fontFamily:FONT, fontSize:25}});
  graphic.push({type:'text', x:L-84, y:T0+H/2, rotation:Math.PI/2, z:100, silent:true,
    style:{text:'polarization fraction\n(non-debiased)', align:'center', verticalAlign:'middle', fill:'#000', fontFamily:FONT, fontSize:25, lineHeight:29.5}});
  graphic.push(T(R-13, T0+BAND_DY[row], '{n|'+bands[i]+'}{i|μm}',
    {n:{fontSize:20, fontFamily:FONT, color:'#000'}, i:{fontSize:20, fontStyle:'italic', fontFamily:FONT, color:'#000'}}, 'right'));
  graphic.push(T(cx+16, T0+CRIT_DY[row][0], '{t|(}{i|I}{t|/}{i|σ}{s|QU}{t|)}{s|crit}',
    {t:{fontSize:19, fontFamily:FONT, lineHeight:24, color:'#000'}, i:{fontSize:19, fontStyle:'italic', fontFamily:FONT, lineHeight:24, color:'#000'},
     s:{fontSize:13.5, fontStyle:'italic', fontFamily:FONT, lineHeight:15, verticalAlign:'bottom', color:'#000'}}));
  graphic.push(T(cx+20.5, T0+CRIT_DY[row][1], '~ '+critRatio[i]));
  graphic.push({type:'rect', z:99, silent:true, shape:{x:L+6, y:B-71, width:170, height:57}, style:{fill:'#fff'}});
  graphic.push(T(L+12, B-57, '{i|p}{s|σ}{ss|QU}',
    {i:{fontSize:19, fontStyle:'italic', fontFamily:FONT, lineHeight:24, color:'#000'},
     s:{fontSize:13, fontStyle:'italic', fontFamily:FONT, lineHeight:16, verticalAlign:'bottom', color:'#000'},
     ss:{fontSize:9.5, fontStyle:'italic', fontFamily:FONT, lineHeight:10, verticalAlign:'bottom', color:'#000'}}));
  graphic.push(T(L+12, B-28.5, '{i|α}', {i:{fontSize:19, fontStyle:'italic', fontFamily:FONT, color:'#000'}}));
  graphic.push(T(L+57, B-57, ': '+pSigma[i]));
  graphic.push(T(L+57, B-28.5, ': '+alphaFit[i]));
});
chart.setOption({graphic: graphic});
</script></body></html>
